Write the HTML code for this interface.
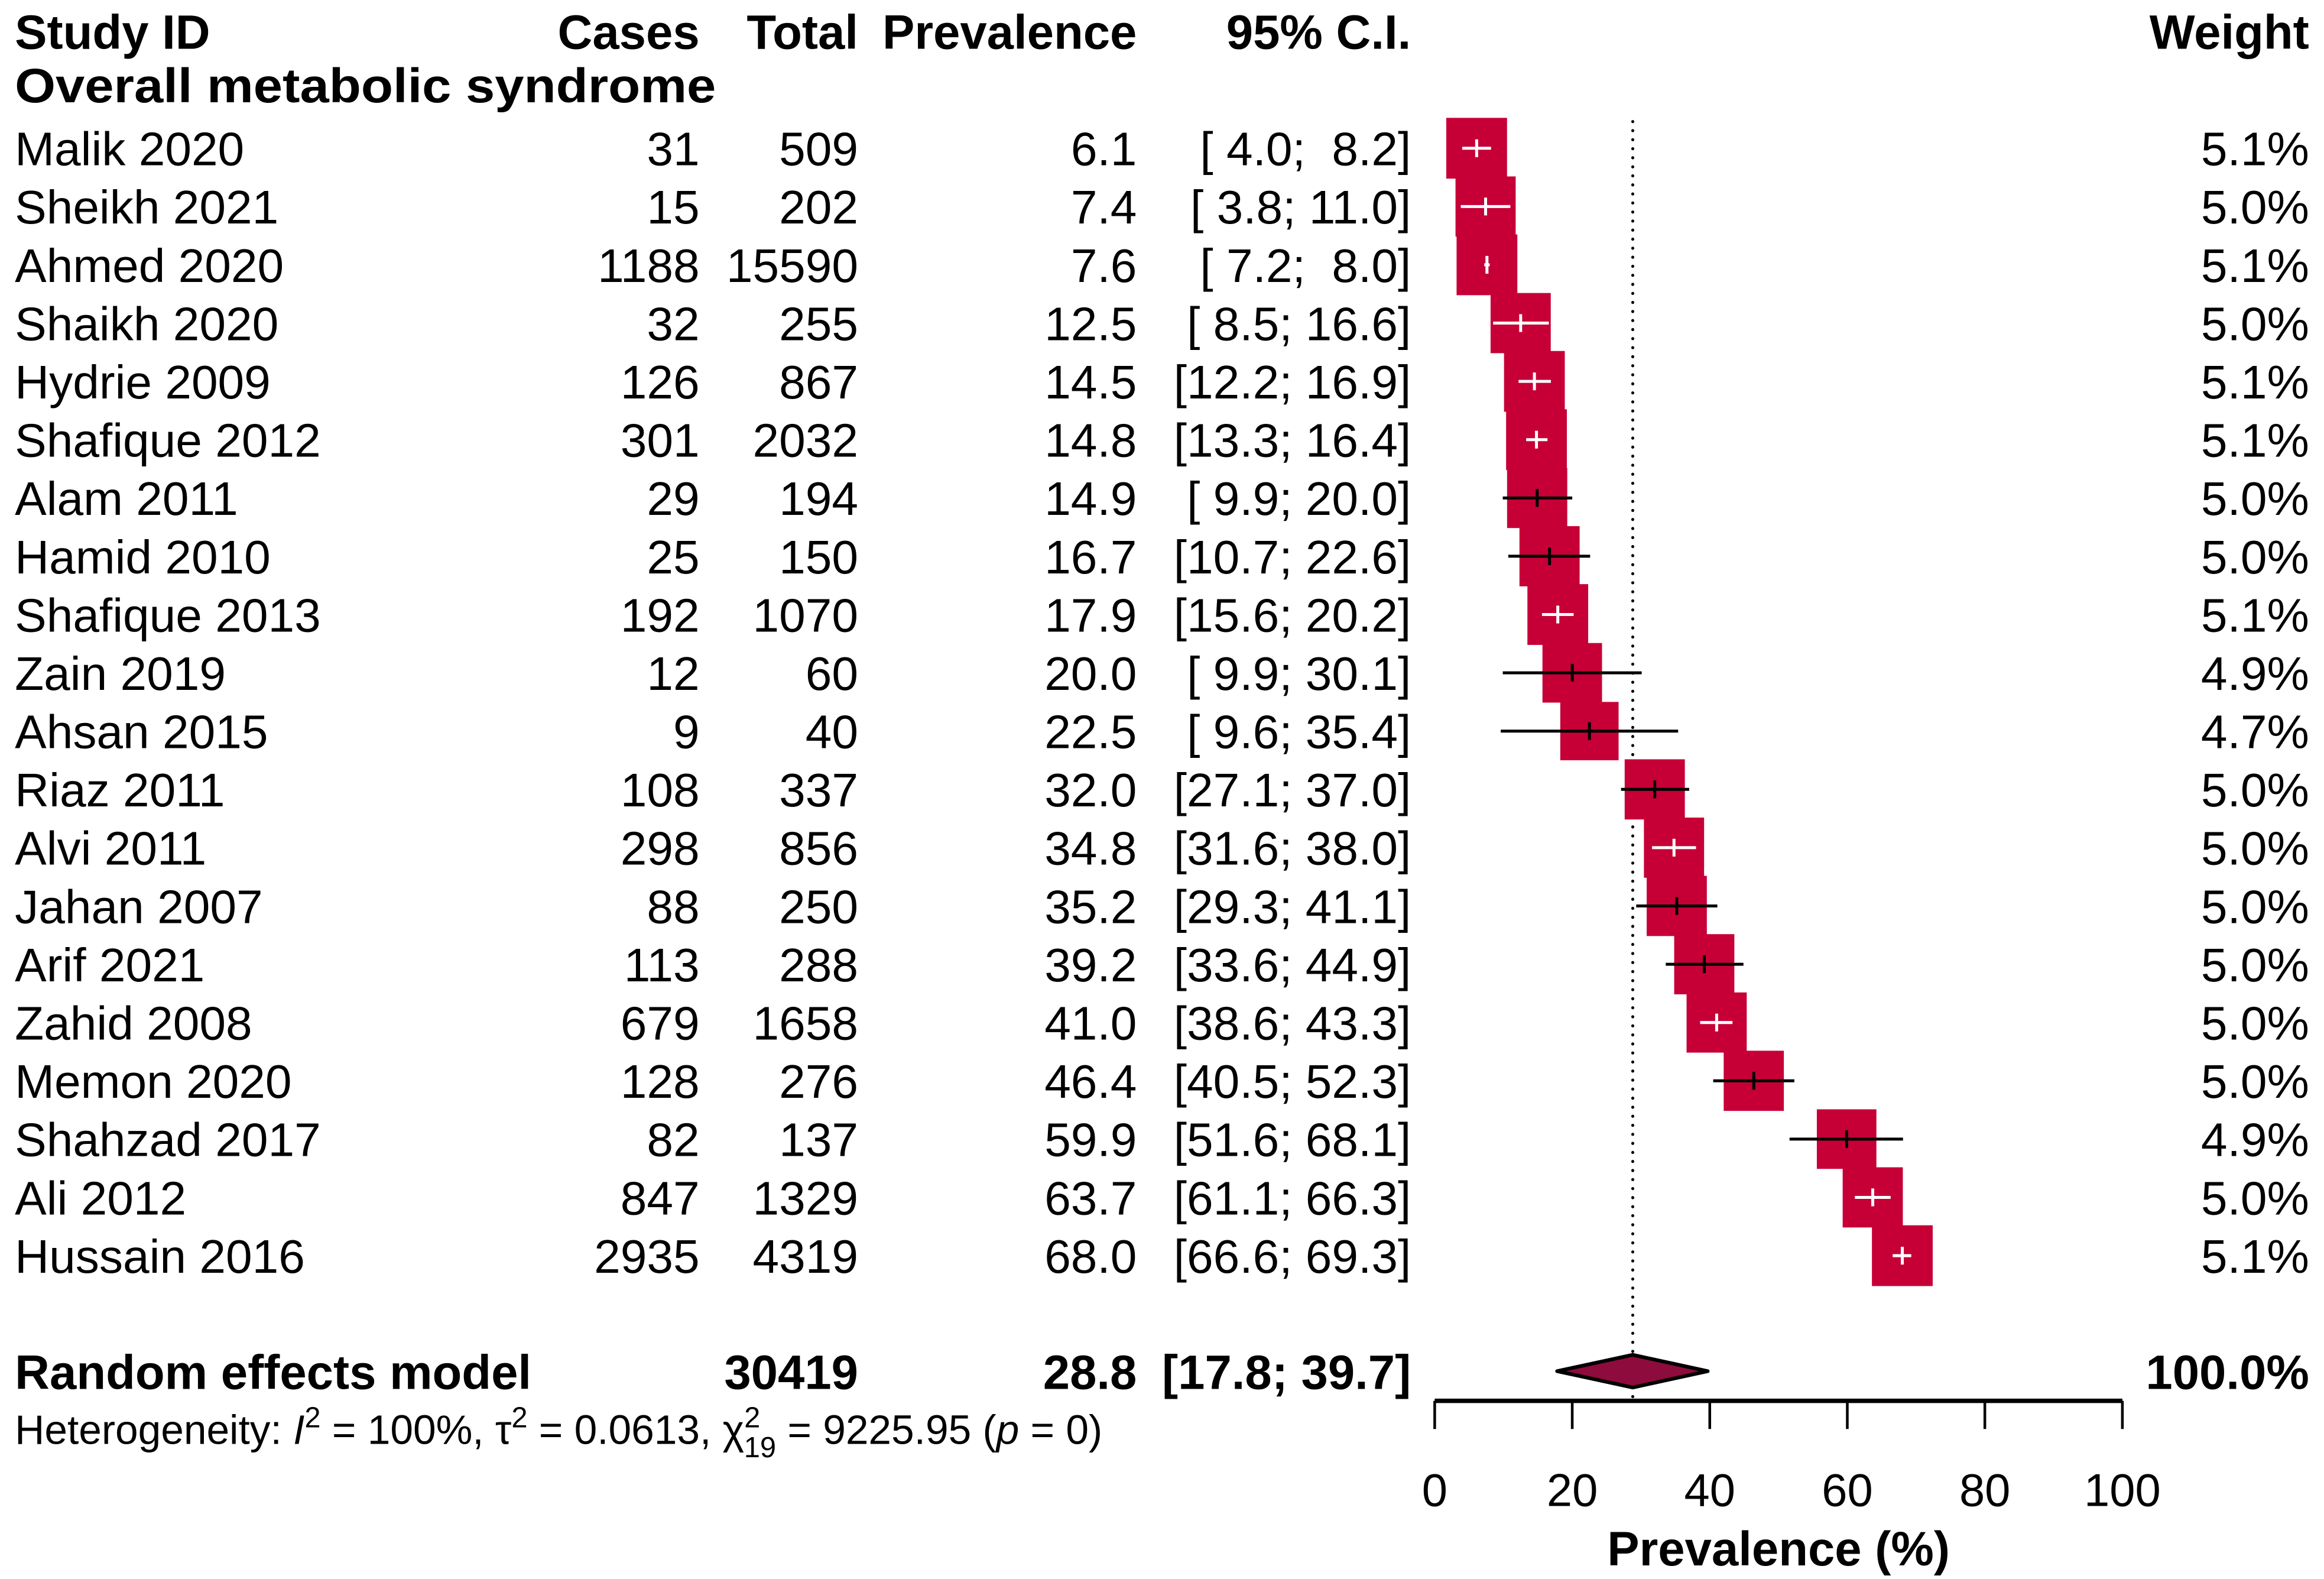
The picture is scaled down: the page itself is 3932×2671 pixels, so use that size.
<!DOCTYPE html>
<html><head><meta charset="utf-8">
<style>
html,body{margin:0;padding:0;background:#fff;}
svg{display:block;}
text{font-family:"Liberation Sans",Arial,sans-serif;fill:#000;white-space:pre;}
.b{font-weight:bold;}
</style></head>
<body>
<svg id="plot" xmlns="http://www.w3.org/2000/svg" width="3932" height="2671" viewBox="0 0 1568 1065.2">
<rect x="0" y="0" width="1568" height="1066" fill="#fff"/>
<g font-size="32.5">
<text class="b" x="10" y="33">Study ID</text>
<text class="b" x="472" y="33" text-anchor="end">Cases</text>
<text class="b" x="579" y="33" text-anchor="end">Total</text>
<text class="b" x="767" y="33" text-anchor="end">Prevalence</text>
<text class="b" x="952" y="33" text-anchor="end">95% C.I.</text>
<text class="b" x="1558" y="33" text-anchor="end">Weight</text>
<text class="b" x="10" y="69" textLength="473" lengthAdjust="spacingAndGlyphs">Overall metabolic syndrome</text>
</g>
<g id="rows"></g>
<g id="marks"></g>
<g id="axis"></g>
<g font-size="32.5">
<text class="b" x="10" y="937">Random effects model</text>
<text class="b" x="579" y="937" text-anchor="end">30419</text>
<text class="b" x="767" y="937" text-anchor="end">28.8</text>
<text class="b" x="952" y="937" text-anchor="end">[17.8; 39.7]</text>
<text class="b" x="1558" y="937" text-anchor="end">100.0%</text>
</g>
<text x="10" y="974" font-size="27.7">Heterogeneity: <tspan font-style="italic">I</tspan><tspan dy="-11" font-size="19.5">2</tspan><tspan dy="11"> = 100%, τ</tspan><tspan dy="-11" font-size="19.5">2</tspan><tspan dy="11"> = 0.0613, χ</tspan><tspan dy="-11" font-size="19.5">2</tspan><tspan dx="-11" dy="20" font-size="19.5">19</tspan><tspan dy="-9"> = 9225.95 (</tspan><tspan font-style="italic">p</tspan><tspan> = 0)</tspan></text>
</svg>
<script>
const studies=["Malik 2020","Sheikh 2021","Ahmed 2020","Shaikh 2020","Hydrie 2009","Shafique 2012","Alam 2011","Hamid 2010","Shafique 2013","Zain 2019","Ahsan 2015","Riaz 2011","Alvi 2011","Jahan 2007","Arif 2021","Zahid 2008","Memon 2020","Shahzad 2017","Ali 2012","Hussain 2016"];
const cases=[31,15,1188,32,126,301,29,25,192,12,9,108,298,88,113,679,128,82,847,2935];
const totals=[509,202,15590,255,867,2032,194,150,1070,60,40,337,856,250,288,1658,276,137,1329,4319];
const prevalence=[6.1,7.4,7.6,12.5,14.5,14.8,14.9,16.7,17.9,20.0,22.5,32.0,34.8,35.2,39.2,41.0,46.4,59.9,63.7,68.0];
const ciLower=[4.0,3.8,7.2,8.5,12.2,13.3,9.9,10.7,15.6,9.9,9.6,27.1,31.6,29.3,33.6,38.6,40.5,51.6,61.1,66.6];
const ciUpper=[8.2,11.0,8.0,16.6,16.9,16.4,20.0,22.6,20.2,30.1,35.4,37.0,38.0,41.1,44.9,43.3,52.3,68.1,66.3,69.3];
const weights=[5.1,5.0,5.1,5.0,5.1,5.1,5.0,5.0,5.1,4.9,4.7,5.0,5.0,5.0,5.0,5.0,5.0,4.9,5.0,5.1];
const pooled=[28.8,17.8,39.7];
const ticks=[0,20,40,60,80,100];

const NS="http://www.w3.org/2000/svg";
const X0=968,X1=1432;
function xs(v){return X0+(X1-X0)*v/100;}
function ys(i){return 100+i*39.32;}
function mk(tag,attrs,parent,txt){const e=document.createElementNS(NS,tag);for(const k in attrs)e.setAttribute(k,attrs[k]);if(txt!==undefined)e.textContent=txt;parent.appendChild(e);return e;}
function fmt(v){let s=v.toFixed(1);return s.length<4?" "+s:s;}
const rows=document.getElementById('rows'),marks=document.getElementById('marks'),axis=document.getElementById('axis');

let dl=mk('line',{x1:xs(pooled[0]),x2:xs(pooled[0]),y1:82,y2:945,stroke:'#000','stroke-width':2,'stroke-dasharray':'0.1 6','stroke-linecap':'round'},marks);



studies.forEach((s,i)=>{
  const y=ys(i),by=y+11.5;
  const cols=[[s,10,'start'],[String(cases[i]),472,'end'],[String(totals[i]),579,'end'],[prevalence[i].toFixed(1),767,'end'],["["+fmt(ciLower[i])+"; "+fmt(ciUpper[i])+"]",952,'end'],[weights[i].toFixed(1)+"%",1558,'end']];
  const names=['study-name','cases-value','total-value','prevalence-value','ci-value','weight-value'];
  cols.forEach((c,j)=>{
    const t=mk('text',{x:c[1],y:by,'font-size':32,'text-anchor':c[2]},rows,c[0]);
    
    
  });
  const w=41*Math.sqrt(weights[i]/5.1);
  const cx=xs(prevalence[i]);
  const sq=mk('rect',{x:cx-w/2,y:y-w/2,width:w,height:w,fill:'#C60036'},marks);
  
  
  const lo=xs(ciLower[i]),hi=xs(ciUpper[i]);
  const inside=lo>=cx-w/2&&hi<=cx+w/2;
  const col=inside?'#fff':'#000';
  const ln=mk('line',{x1:lo,x2:hi,y1:y,y2:y,stroke:col,'stroke-width':2},marks);
  
  
  const tk=mk('line',{x1:cx,x2:cx,y1:y-6,y2:y+6,stroke:col,'stroke-width':2},marks);
  
  
});

const dy=925,dh=11;
const dm=mk('polygon',{points:`${xs(pooled[1])},${dy} ${xs(pooled[0])},${dy-dh} ${xs(pooled[2])},${dy} ${xs(pooled[0])},${dy+dh}`,fill:'#8E0B3E',stroke:'#000','stroke-width':2.5,'stroke-linejoin':'round'},marks);



const al=mk('line',{x1:xs(ticks[0]),x2:xs(ticks[ticks.length-1]),y1:945,y2:945,stroke:'#000','stroke-width':3},axis);


ticks.forEach(t=>{
  const l=mk('line',{x1:xs(t),x2:xs(t),y1:945,y2:964,stroke:'#000','stroke-width':1.8},axis);
  
  
  const tx=mk('text',{x:xs(t),y:1016,'font-size':31,'text-anchor':'middle'},axis,String(t));
  
  
});
const at=mk('text',{x:1200,y:1056,'font-size':32.5,'text-anchor':'middle','font-weight':'bold'},axis,'Prevalence (%)');


</script>
</body></html>
